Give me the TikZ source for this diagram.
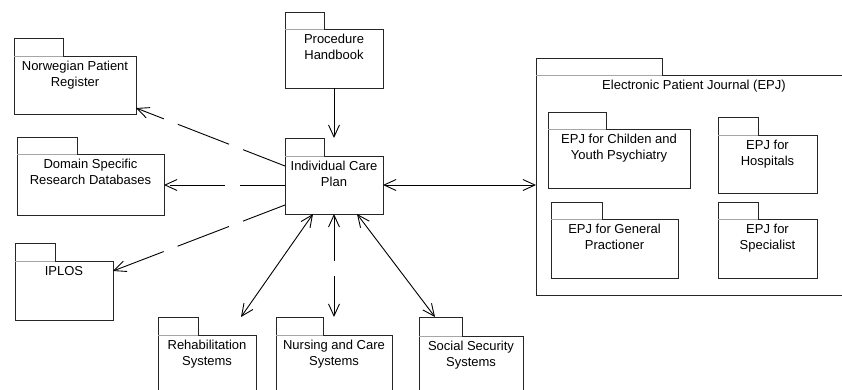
\documentclass[tikz,border=0pt]{standalone}
\usepackage{fontspec}
\setmainfont{Liberation Sans}
\usetikzlibrary{arrows.meta,calc}

\tikzset{
  pkgbody/.style={draw=black!85, line width=0.9pt, anchor=north west,
    inner sep=0pt, outer sep=0pt},
  pkgtab/.style={draw=black!85, line width=0.9pt, anchor=north west,
    inner sep=0pt, outer sep=0pt},
  tabseam/.style={draw=black!35, line width=0.9pt},
  pkgtext/.style={anchor=north, align=center, inner sep=0pt,
    font=\fontsize{13}{16}\selectfont},
  link/.style={line width=0.9pt, black},
  dep/.style={link, dash pattern=on 55pt off 15pt, dash phase=10pt},
  barb/.tip={Straight Barb[length=12pt, width=11pt, line width=0.9pt]},
  oneway/.style={-barb},
  twoway/.style={barb-barb},
}

% UML package: name, left x, tab top, tab right, body top, body right, body bottom, text
\newcommand\umlpkg[8]{%
  \node[pkgbody, minimum width={#6pt-#2pt}, minimum height={#7pt-#5pt}] (#1) at (#2,#5) {};
  \node[pkgtab, minimum width={#4pt-#2pt}, minimum height={#5pt-#3pt}] (#1tab) at (#2,#3) {};
  \draw[tabseam] (#2,#5) -- (#4,#5);
  \node[pkgtext] (#1txt) at ($(#1.north)+(0pt,-5pt)$) {#8};
}

\begin{document}
\begin{tikzpicture}[x=1pt, y=-1pt]
  \clip (0,0) rectangle (842,389);
  \fill[white] (0,0) rectangle (842,389);

  % packages on the left and top
  \umlpkg{npr}{14}{38}{63}{56}{136}{114}{Norwegian Patient\\Register}
  \umlpkg{hb}{285}{12}{324}{29}{383}{88}{Procedure\\Handbook}
  \umlpkg{dsr}{17}{137}{77}{154}{164}{215}{Domain Specific\\Research Databases}
  \umlpkg{icp}{285}{138}{324}{156}{383}{214}{Individual Care\\Plan}
  \umlpkg{iplos}{15}{243}{55}{261}{113}{320}{IPLOS}

  % packages along the bottom
  \umlpkg{rehab}{158}{317}{198}{335}{256}{400}{Rehabilitation\\Systems}
  \umlpkg{nurs}{276}{317}{323}{335}{392}{400}{Nursing and Care\\Systems}
  \umlpkg{soc}{419}{317}{462}{336}{523}{400}{Social Security\\Systems}

  % Electronic Patient Journal and its contents
  \umlpkg{epj}{536}{58}{662}{75}{852}{295}{Electronic Patient Journal (EPJ)}
  \umlpkg{epjcy}{548}{112}{606}{129}{690}{188}{EPJ for Childen and\\Youth Psychiatry}
  \umlpkg{epjh}{718}{117}{758}{135}{817}{193}{EPJ for\\Hospitals}
  \umlpkg{epjg}{551}{202}{602}{219}{678}{278}{EPJ for General\\Practioner}
  \umlpkg{epjs}{718}{202}{758}{219}{817}{278}{EPJ for\\Specialist}

  % connectors
  \draw[link, oneway] (hb.south) -- (hb.south |- icptab.north);
  \draw[dep, oneway] ($(icp.west)+(0pt,19pt)$) -- ($(npr.south east)+(0pt,6pt)$);
  \draw[dep, oneway] (icp.west) -- (icp.west -| dsr.east);
  \draw[dep, oneway] ($(icp.west)+(0pt,-20pt)$) -- ($(iplos.north east)+(0pt,-10pt)$);
  \draw[link, twoway] ($(icp.south)+(-21pt,0pt)$) -- ($(rehab.north east)+(-15pt,18pt)$);
  \draw[dep, twoway] (icp.south) -- ($(nurs.north)+(0pt,18pt)$);
  \draw[link, twoway] ($(icp.south)+(23pt,0pt)$) -- ($(soc.north west)+(16pt,19pt)$);
  \draw[link, twoway] (icp.east) -- (icp.east -| epj.west);
\end{tikzpicture}
\end{document}
